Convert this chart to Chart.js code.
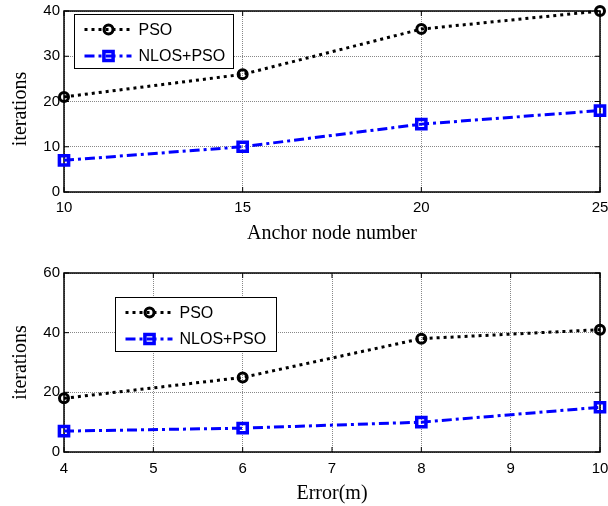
<!DOCTYPE html>
<html>
<head>
<meta charset="utf-8">
<script src="https://cdn.jsdelivr.net/npm/chart.js@4"></script>
<style>
body { margin: 0; background: #fff; }
canvas { display: block; }
</style>
</head>
<body>
<canvas id="chartTop" width="608" height="253"></canvas>
<canvas id="chartBottom" width="608" height="253"></canvas>
<script>
var seriesNames = ['PSO', 'NLOS+PSO'];

// upper plot: iterations vs anchor node number
var anchorNodes = [10, 15, 20, 25];
var psoAnchor = [21, 26, 36, 40];
var nlosAnchor = [7, 10, 15, 18];
var anchorXTicks = [10, 15, 20, 25];
var anchorYTicks = [0, 10, 20, 30, 40];

// lower plot: iterations vs error
var errorM = [4, 6, 8, 10];
var psoError = [18, 25, 38, 41];
var nlosError = [7, 8, 10, 15];
var errorXTicks = [4, 5, 6, 7, 8, 9, 10];
var errorYTicks = [0, 20, 40, 60];

function points(xs, ys) {
    return xs.map(function (x, i) { return {x: x, y: ys[i]}; });
}

function datasets(xs, pso, nlos) {
    return [{
        label: seriesNames[0],
        data: points(xs, pso),
        borderColor: '#000',
        borderWidth: 3,
        borderDash: [3, 4],
        pointStyle: 'circle',
        pointRadius: 4.5,
        pointBorderWidth: 3,
        pointBorderColor: '#000',
        pointBackgroundColor: 'rgba(0,0,0,0)',
        tension: 0,
        clip: false
    }, {
        label: seriesNames[1],
        data: points(xs, nlos),
        borderColor: '#0000ff',
        borderWidth: 3,
        borderDash: [10, 4, 3, 4],
        pointStyle: 'rect',
        pointRadius: 6.5,
        pointBorderWidth: 3.5,
        pointBorderColor: '#0000ff',
        pointBackgroundColor: 'rgba(0,0,0,0)',
        tension: 0,
        clip: false
    }];
}

var tickFont = {family: '"Liberation Sans", Arial, sans-serif', size: 15};
var titleFont = {family: '"Liberation Serif", "Times New Roman", serif', size: 20};

function scales(xTicks, yTicks, xTitle, yTitle, tickPad, xTitlePad, xHeight) {
    return {
        x: {
            type: 'linear',
            min: xTicks[0],
            max: xTicks[xTicks.length - 1],
            afterBuildTicks: function (s) { s.ticks = xTicks.map(function (v) { return {value: v}; }); },
            afterFit: function (s) { s.height = xHeight; s.paddingLeft = 0; s.paddingRight = 0; },
            ticks: {font: tickFont, color: '#000', padding: tickPad, maxRotation: 0},
            grid: {color: '#888', lineWidth: 1, drawTicks: false},
            border: {display: false, dash: [1, 1]},
            title: {display: true, text: xTitle, font: titleFont, color: '#000', padding: {top: 0, bottom: xTitlePad}}
        },
        y: {
            type: 'linear',
            min: yTicks[0],
            max: yTicks[yTicks.length - 1],
            afterBuildTicks: function (s) { s.ticks = yTicks.map(function (v) { return {value: v}; }); },
            afterFit: function (s) { s.width = 64; s.paddingTop = 0; s.paddingBottom = 0; },
            ticks: {font: tickFont, color: '#000', padding: 4},
            grid: {color: '#888', lineWidth: 1, drawTicks: false},
            border: {display: false, dash: [1, 1]},
            title: {display: true, text: yTitle, font: titleFont, color: '#000', padding: {top: 9, bottom: 0}}
        }
    };
}

// axes box, inward tick marks and the boxed legend
var framePlugin = {
    id: 'frame',
    beforeDatasetsDraw: function (chart) {
        var a = chart.chartArea, ctx = chart.ctx;
        var xs = chart.scales.x, ys = chart.scales.y;
        ctx.save();
        ctx.strokeStyle = '#000';
        ctx.lineWidth = 1;
        ctx.beginPath();
        xs.ticks.forEach(function (t) {
            var px = xs.getPixelForValue(t.value);
            ctx.moveTo(px, a.bottom); ctx.lineTo(px, a.bottom - 5);
            ctx.moveTo(px, a.top); ctx.lineTo(px, a.top + 5);
        });
        ys.ticks.forEach(function (t) {
            var py = ys.getPixelForValue(t.value);
            ctx.moveTo(a.left, py); ctx.lineTo(a.left + 5, py);
            ctx.moveTo(a.right, py); ctx.lineTo(a.right - 5, py);
        });
        ctx.stroke();
        ctx.lineWidth = 1.5;
        ctx.strokeRect(a.left, a.top, a.right - a.left, a.bottom - a.top);
        ctx.restore();
    },
    afterDraw: function (chart, args, opts) {
        var a = chart.chartArea, ctx = chart.ctx;
        var bx = Math.round(a.left + opts.left) + 0.5;
        var by = Math.round(a.top + opts.top) + 0.5;
        ctx.save();
        ctx.fillStyle = '#fff';
        ctx.fillRect(bx, by, opts.width, 54);
        ctx.strokeStyle = '#000';
        ctx.lineWidth = 1;
        ctx.strokeRect(bx, by, opts.width, 54);
        chart.data.datasets.forEach(function (ds, i) {
            var y = by + 15 + i * 26.5;
            ctx.strokeStyle = ds.borderColor;
            ctx.lineWidth = ds.borderWidth;
            ctx.setLineDash(ds.borderDash);
            ctx.beginPath();
            ctx.moveTo(bx + 10, y); ctx.lineTo(bx + 57, y);
            ctx.stroke();
            ctx.setLineDash([]);
            ctx.strokeStyle = ds.pointBorderColor;
            ctx.lineWidth = ds.pointBorderWidth;
            ctx.beginPath();
            if (ds.pointStyle === 'rect') {
                var h = ds.pointRadius * Math.SQRT1_2;
                ctx.rect(bx + 34 - h, y - h, 2 * h, 2 * h);
            } else {
                ctx.arc(bx + 34, y, ds.pointRadius, 0, Math.PI * 2);
            }
            ctx.stroke();
            ctx.fillStyle = '#000';
            ctx.font = '16px "Liberation Sans", Arial, sans-serif';
            ctx.textBaseline = 'middle';
            ctx.fillText(ds.label, bx + 64, y + 1);
        });
        ctx.restore();
    }
};

var chartTop = new Chart(document.getElementById('chartTop').getContext('2d'), {
    type: 'line',
    data: {datasets: datasets(anchorNodes, psoAnchor, nlosAnchor)},
    options: {
        responsive: false,
        animation: false,
        layout: {autoPadding: false, padding: {top: 11, right: 8, bottom: 0, left: 0}},
        scales: scales(anchorXTicks, anchorYTicks, 'Anchor node number', 'iterations   ', 6.5, 7, 61),
        plugins: {
            legend: {display: false},
            tooltip: {enabled: false},
            frame: {left: 10, top: 3, width: 159}
        }
    },
    plugins: [framePlugin]
});

var chartBottom = new Chart(document.getElementById('chartBottom').getContext('2d'), {
    type: 'line',
    data: {datasets: datasets(errorM, psoError, nlosError)},
    options: {
        responsive: false,
        animation: false,
        layout: {autoPadding: false, padding: {top: 20, right: 8, bottom: 0, left: 0}},
        scales: scales(errorXTicks, errorYTicks, 'Error(m)', 'iterations', 7.5, 0, 54),
        plugins: {
            legend: {display: false},
            tooltip: {enabled: false},
            frame: {left: 51, top: 24, width: 161}
        }
    },
    plugins: [framePlugin]
});
</script>
</body>
</html>
